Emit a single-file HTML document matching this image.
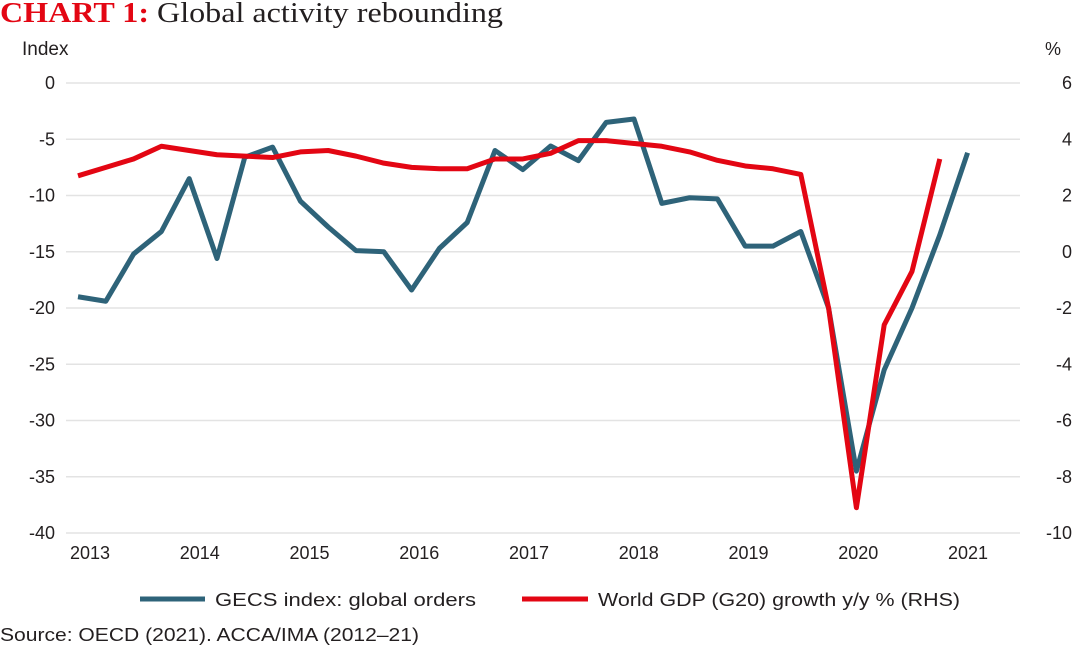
<!DOCTYPE html>
<html><head><meta charset="utf-8"><style>
body{margin:0;background:#fff;width:1080px;height:649px;overflow:hidden}
svg text{font-family:"Liberation Sans",sans-serif;fill:#231f20}
</style></head><body>
<svg id="c" width="1080" height="649">
<text x="0" y="22" style="font-family:'Liberation Serif',serif;font-size:28px" textLength="503" lengthAdjust="spacingAndGlyphs"><tspan font-weight="bold" style="fill:#e30613">CHART 1:</tspan> Global activity rebounding</text>
<text x="22" y="55" font-size="19">Index</text>
<text x="1045" y="55" font-size="18">%</text>
<g id="grid"></g><g id="ticks"></g><g id="series"></g>
<g>
<line x1="140" y1="599" x2="205" y2="599" stroke="#2e6379" stroke-width="5"/>
<text x="215" y="606" font-size="18" textLength="261" lengthAdjust="spacingAndGlyphs">GECS index: global orders</text>
<line x1="522" y1="599" x2="588" y2="599" stroke="#e30613" stroke-width="5"/>
<text x="598" y="606" font-size="18" textLength="362" lengthAdjust="spacingAndGlyphs">World GDP (G20) growth y/y % (RHS)</text>
</g>
<text x="0" y="641" font-size="18" textLength="419" lengthAdjust="spacingAndGlyphs">Source: OECD (2021). ACCA/IMA (2012–21)</text>
</svg>
<script>
const leftTicks=[0,-5,-10,-15,-20,-25,-30,-35,-40];
const rightTicks=[6,4,2,0,-2,-4,-6,-8,-10];
const years=["2013","2014","2015","2016","2017","2018","2019","2020","2021"];
const gecs=[-19,-19.4,-15.2,-13.2,-8.5,-15.6,-6.6,-5.7,-10.5,-12.8,-14.9,-15.0,-18.4,-14.7,-12.4,-6.0,-7.7,-5.6,-6.9,-3.5,-3.2,-10.7,-10.2,-10.3,-14.5,-14.5,-13.2,-20,-34.5,-25.5,-20,-13.5,-6.2];
const gdp=[2.7,3.0,3.3,3.75,3.6,3.45,3.4,3.35,3.55,3.6,3.4,3.15,3.0,2.95,2.95,3.3,3.3,3.5,3.95,3.95,3.85,3.75,3.55,3.25,3.05,2.95,2.75,-2.0,-9.1,-2.6,-0.7,3.3];
const NS="http://www.w3.org/2000/svg";
const yL=v=>83+(0-v)*(450/40);
const yR=v=>83+(6-v)*(450/16);
const xQ=i=>78+i*27.8;
const xY=k=>90+k*109.75;
function mk(t,a,p){const e=document.createElementNS(NS,t);for(const k in a)e.setAttribute(k,a[k]);p.appendChild(e);return e;}
const grid=document.getElementById('grid'),ticks=document.getElementById('ticks'),ser=document.getElementById('series');
leftTicks.forEach((v,i)=>{
 const l=mk('line',{x1:66,x2:1020,y1:yL(v),y2:yL(v),stroke:'#e3e3e3','stroke-width':1.5},grid);
 
 
 const t=mk('text',{x:55,y:yL(v)+6,'text-anchor':'end','font-size':18},ticks);t.textContent=v;
 
 
});
rightTicks.forEach(v=>{
 const t=mk('text',{x:1072,y:yR(v)+6,'text-anchor':'end','font-size':18},ticks);t.textContent=v;
 
 
});
years.forEach((y,k)=>{
 const t=mk('text',{x:xY(k),y:559,'text-anchor':'middle','font-size':18},ticks);t.textContent=y;
 
 
});
const p1=mk('polyline',{points:gecs.map((v,i)=>xQ(i)+','+yL(v)).join(' '),fill:'none',stroke:'#2e6379','stroke-width':5,'stroke-linejoin':'round'},ser);


const p2=mk('polyline',{points:gdp.map((v,i)=>xQ(i)+','+yR(v)).join(' '),fill:'none',stroke:'#e30613','stroke-width':5,'stroke-linejoin':'round'},ser);


</script>
</body></html>
